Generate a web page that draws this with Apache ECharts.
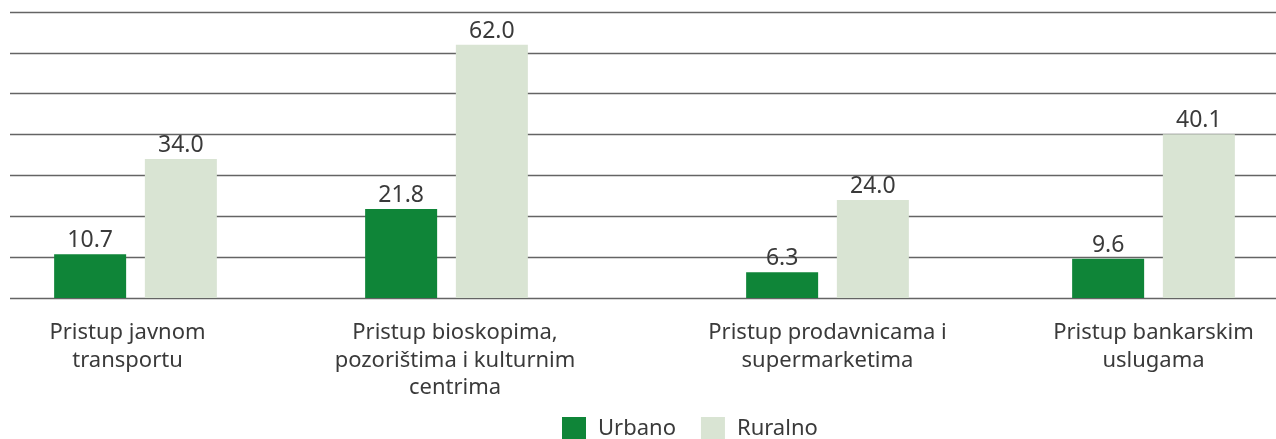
<!DOCTYPE html>
<html>

<head>
    <meta http-equiv="Content-Type" content="text/html; charset=utf-8" />
    <title>Urbano / Ruralno</title>
    <style type="text/css">
        html,
        body {
            margin: 0;
            padding: 0;
            background: #fff;
        }

        #chart {
            width: 1276px;
            height: 439px;
        }
    </style>
    <script src="https://cdn.jsdelivr.net/npm/echarts@6.0.0/dist/echarts.min.js"></script>
</head>

<body>
    <div id="chart"></div>
    <script type="text/javascript">
        // podaci
        var categories = [
            'Pristup javnom\ntransportu',
            'Pristup bioskopima,\npozorištima i kulturnim\ncentrima',
            'Pristup prodavnicama i\nsupermarketima',
            'Pristup bankarskim\nuslugama'
        ];
        var urbano = [10.7, 21.8, 6.3, 9.6];
        var ruralno = [34.0, 62.0, 24.0, 40.1];
        var yTicks = [0, 10, 20, 30, 40, 50, 60, 70];

        // raspored grupa (centri u pikselima) i pomeranje natpisa
        var groupCenters = [135.5, 446.5, 827.5, 1153.5];
        var labelPads = [[0, 16, 0, 0], [0, 0, 0, 17], [0, 0, 0, 0], [0, 0, 0, 0]];
        var groupWidth = 240;

        var colors = ['#0f8538', '#d9e4d3'];
        var font = '"Noto Sans", "Open Sans", sans-serif';

        var grids = [{ left: 10, right: 0, top: 12, height: 286 }];
        var xAxes = [{ type: 'category', gridIndex: 0, data: [''], show: false }];
        var yAxes = [{
            type: 'value',
            gridIndex: 0,
            min: yTicks[0],
            max: yTicks[yTicks.length - 1],
            interval: yTicks[1] - yTicks[0],
            axisLabel: { show: false },
            axisLine: { show: false },
            axisTick: { show: false },
            splitLine: { lineStyle: { color: '#646464', width: 1.4 } }
        }];
        var series = [];

        for (var i = 0; i < categories.length; i++) {
            grids.push({ left: groupCenters[i] - groupWidth / 2, width: groupWidth, top: 12, height: 286 });
            xAxes.push({
                type: 'category',
                gridIndex: i + 1,
                data: [categories[i]],
                axisLine: { show: false },
                axisTick: { show: false },
                axisLabel: {
                    margin: 21,
                    color: '#3a3a3a',
                    fontSize: 22,
                    lineHeight: 27.5,
                    fontFamily: font,
                    padding: labelPads[i]
                }
            });
            yAxes.push({
                type: 'value',
                gridIndex: i + 1,
                min: yTicks[0],
                max: yTicks[yTicks.length - 1],
                interval: yTicks[1] - yTicks[0],
                show: false,
                splitLine: { show: false }
            });
            var lbl = {
                show: true,
                position: 'top',
                distance: 2,
                color: '#3a3a3a',
                fontSize: 23,
                fontFamily: font,
                formatter: function (p) { return p.value.toFixed(1); }
            };
            series.push({
                name: 'Urbano',
                type: 'bar',
                xAxisIndex: i + 1,
                yAxisIndex: i + 1,
                data: [urbano[i]],
                barWidth: 72,
                barGap: '26%',
                itemStyle: { color: colors[0] },
                label: lbl
            });
            series.push({
                name: 'Ruralno',
                type: 'bar',
                xAxisIndex: i + 1,
                yAxisIndex: i + 1,
                data: [ruralno[i]],
                barWidth: 72,
                barGap: '26%',
                itemStyle: { color: colors[1] },
                label: lbl
            });
        }

        var chart = echarts.init(document.getElementById('chart'));
        chart.setOption({
            animation: false,
            color: colors,
            grid: grids,
            xAxis: xAxes,
            yAxis: yAxes,
            legend: {
                data: ['Urbano', 'Ruralno'],
                left: 562,
                top: 417,
                padding: 0,
                icon: 'rect',
                itemWidth: 24,
                itemHeight: 24,
                itemGap: 25,
                textStyle: {
                    color: '#3a3a3a',
                    fontSize: 22,
                    fontFamily: font,
                    padding: [0, 0, 0, 7]
                }
            },
            series: series
        });
    </script>
</body>

</html>
